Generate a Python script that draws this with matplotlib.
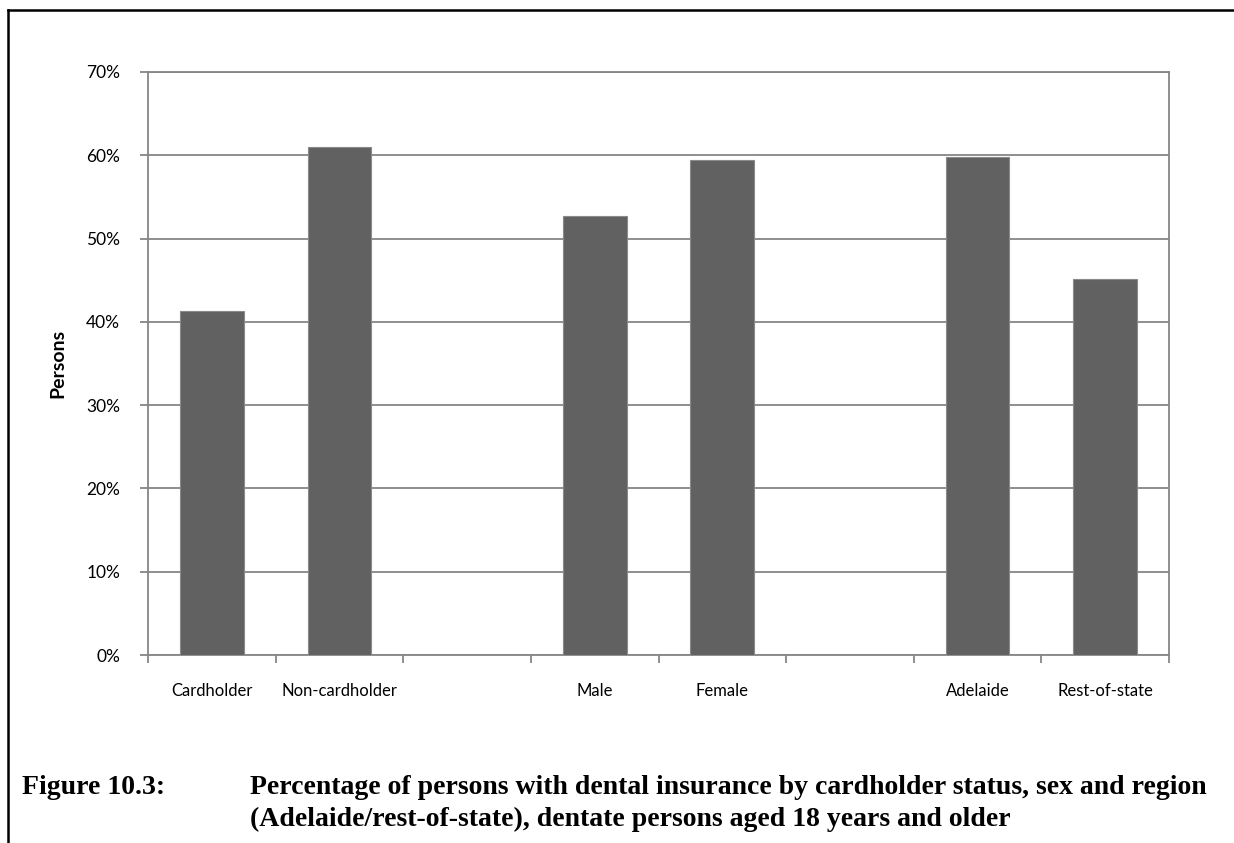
import numpy as np
import matplotlib.pyplot as plt
from matplotlib.lines import Line2D
from matplotlib.ticker import PercentFormatter

# categories with blank spacer slots between the three groups
categories = ["Cardholder", "Non-cardholder", "", "Male", "Female", "", "Adelaide", "Rest-of-state"]
values = [41.3, 61.0, None, 52.7, 59.4, None, 59.8, 45.2]
y_ticks = [0, 10, 20, 30, 40, 50, 60, 70]

caption_num = "Figure 10.3:"
caption_lines = [
    "Percentage of persons with dental insurance by cardholder status, sex and region",
    "(Adelaide/rest-of-state), dentate persons aged 18 years and older",
]

grid_col = "#868686"
bar_col = "#616161"

fig = plt.figure(figsize=(12.34, 8.43), dpi=100)
ax = fig.add_axes([148 / 1234, 1 - 655 / 843, (1169 - 148) / 1234, (655 - 72) / 843])

# bars (skip the empty spacer slots)
xs = [i for i, v in enumerate(values) if v is not None]
hs = [v for v in values if v is not None]
ax.bar(xs, hs, width=0.5, color=bar_col, edgecolor="#8a8a8a", linewidth=0.8, zorder=3)

ax.set_xlim(-0.5, len(categories) - 0.5)
ax.set_ylim(0, 70)
ax.set_yticks(y_ticks)
ax.yaxis.set_major_formatter(PercentFormatter(decimals=0))
ax.yaxis.grid(True, color=grid_col, linewidth=1.3)
ax.set_axisbelow(True)

# tick marks on category boundaries, labels at category centres
ax.set_xticks(np.arange(len(categories) + 1) - 0.5)
ax.set_xticklabels([])
ax.set_xticks(np.arange(len(categories)), minor=True)
ax.set_xticklabels(categories, minor=True)
ax.tick_params(axis="x", which="major", length=6, width=1.3, color=grid_col)
ax.tick_params(axis="x", which="minor", length=0, pad=20, labelsize=12)
ax.tick_params(axis="y", length=6, width=1.3, color=grid_col, labelsize=12.5, pad=14)
for lab in ax.get_xticklabels(minor=True) + ax.get_yticklabels():
    lab.set_family("Lato")

for sp in ax.spines.values():
    sp.set_color(grid_col)
    sp.set_linewidth(1.3)

ax.set_ylabel("Persons", fontsize=14, fontweight="bold", family="Lato", labelpad=14)

# page frame lines (top and left)
fig.add_artist(Line2D([8 / 1234, 1], [1 - 10 / 843, 1 - 10 / 843], color="black", lw=1.8))
fig.add_artist(Line2D([8 / 1234, 8 / 1234], [0, 1 - 10 / 843], color="black", lw=1.8))

# caption
cap_kw = dict(fontsize=20, fontweight="bold", family="Liberation Serif", va="center")
fig.text(22 / 1234, 1 - 787 / 843, caption_num, **cap_kw)
fig.text(250 / 1234, 1 - 787 / 843, caption_lines[0], **cap_kw)
fig.text(250 / 1234, 1 - 819 / 843, caption_lines[1], **cap_kw)

fig.savefig("out.png", dpi=100)
